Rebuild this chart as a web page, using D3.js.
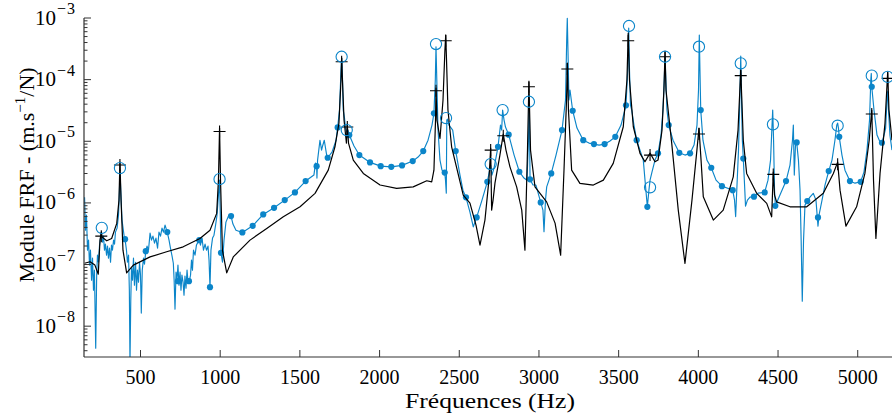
<!DOCTYPE html>
<html><head><meta charset="utf-8">
<script src="https://cdn.jsdelivr.net/npm/d3@7"></script>
<style>
body{margin:0;background:#fff}
svg{display:block}
svg text{font-family:"Liberation Serif","DejaVu Serif","Times New Roman",serif;fill:#000}
</style>
</head><body><svg id="c" width="892" height="419" font-family="Liberation Serif, DejaVu Serif, serif"></svg>
<script>
// ---- data: [frequency (Hz), module FRF (m.s^-1/N)] ----
const modelCurve = [[149,1.05e-7],[183,1.11e-7],[214,9.8e-8],[235,6.98e-8],[246,2.49e-7],[254,3.36e-7],[258,2.79e-7],[288,2.43e-7],[319,2.65e-7],[351,4.65e-7],
[365,1.11e-6],[371,4.59e-6],[378,1.11e-6],[390,1.71e-7],[413,7.33e-8],[455,9.8e-8],[560,1.33e-7],[664,1.61e-7],[768,1.94e-7],[873,2.65e-7],
[936,3.61e-7],[978,6.76e-7],[989,2.34e-6],[996,1.64e-5],[1002,2.34e-6],[1014,1.71e-7],[1041,7.33e-8],[1082,1.33e-7],[1187,2.49e-7],[1292,3.85e-7],
[1396,5.94e-7],[1501,8.65e-7],[1595,1.43e-6],[1678,3.40e-6],[1720,8.14e-6],[1745,1.97e-5],[1758,9.86e-5],[1762,2.24e-4],[1767,9.86e-5],[1777,2.21e-5],
[1792,9.35e-6],[1797,1.90e-5],[1805,9.35e-6],[1835,4.95e-6],[1898,3.01e-6],[2003,1.95e-6],[2107,1.72e-6],[2211,1.82e-6],[2296,2.29e-6],[2327,2.20e-6],
[2341,3.40e-6],[2351,2.21e-5],[2354,7.31e-5],[2360,2.21e-5],[2379,1.11e-5],[2398,4.67e-5],[2410,3.03e-4],[2415,5.30e-4],[2420,2.08e-4],[2429,3.21e-5],
[2452,8.14e-6],[2525,1.34e-6],[2567,9.93e-7],[2605,4.36e-7],[2630,2.07e-7],[2661,5.26e-7],[2686,2.34e-6],[2697,7.76e-6],[2703,7.64e-7],[2712,1.11e-6],
[2724,2.09e-6],[2755,5.97e-6],[2776,1.31e-5],[2793,7.19e-6],[2818,3.85e-6],[2860,1.82e-6],[2892,7.64e-7],[2912,1.71e-7],[2928,7.19e-6],[2937,9.14e-5],
[2947,7.19e-6],[2975,1.82e-6],[3048,1.04e-6],[3101,4.70e-7],[3136,1.42e-7],[3157,3.40e-6],[3173,4.67e-5],[3178,1.86e-4],[3185,3.21e-5],[3205,3.40e-6],
[3257,2.07e-6],[3341,1.95e-6],[3404,2.34e-6],[3466,4.38e-6],[3529,1.72e-5],[3552,9.86e-5],[3560,5.71e-4],[3568,9.86e-5],[3592,1.72e-5],[3634,6.37e-6],
[3665,4.65e-6],[3697,6.43e-6],[3728,4.65e-6],[3747,4.95e-6],[3772,1.52e-5],[3784,6.78e-5],[3791,2.81e-4],[3797,6.78e-5],[3833,9.25e-6],[3874,7.64e-7],
[3916,1.04e-7],[3960,1.11e-6],[3991,7.19e-6],[4004,1.64e-5],[4017,4.95e-6],[4031,1.26e-6],[4094,5.26e-7],[4156,7.64e-7],[4219,2.65e-6],[4249,1.52e-5],
[4266,1.43e-4],[4282,1.04e-5],[4303,3.01e-6],[4366,1.43e-6],[4429,9.82e-7],[4460,5.94e-7],[4470,3.16e-6],[4478,1.34e-6],[4491,1.04e-6],[4575,8.65e-7],
[4680,8.65e-7],[4784,1.43e-6],[4847,3.01e-6],[4874,4.59e-6],[4889,1.61e-6],[4926,4.20e-7],[4993,8.65e-7],[5045,3.01e-6],[5072,1.04e-5],[5088,3.21e-5],
[5099,2.34e-6],[5114,2.65e-7],[5140,3.01e-6],[5171,1.95e-5],[5188,1.33e-4],[5196,3.21e-5],[5215,1.04e-5]];

const measuredCurve = [[149,1.24e-6],[155,3.61e-7],[161,6.34e-7],[167.5,1.71e-7],[174,2.49e-7],[180,9.8e-8],[186,1.71e-7],[193,5.58e-8],[199,1.27e-7],[205,3.84e-8],
[211,8.11e-8],[219,4.4e-9],[225,6.73e-8],[230,1.42e-7],[236.5,1.09e-7],[243,2.07e-7],[249,2.69e-7],[255,3.36e-7],[261.6,2.31e-7],[268,2.89e-7],
[274,1.71e-7],[280,2.14e-7],[287,1.42e-7],[293,1.99e-7],[299,1.27e-7],[305.5,1.85e-7],[312,1.09e-7],[318,2.07e-7],[324,1.71e-7],[331,2.49e-7],
[337,2.14e-7],[343,3.36e-7],[353,3.90e-7],[362,6.34e-7],[368,1.61e-6],[371,3.40e-6],[376,1.61e-6],[384,5.26e-7],[396.5,3.0e-7],[403,2.58e-7],
[412,1.71e-7],[418,1.09e-7],[425,1.42e-7],[430,3.84e-8],[434,2.5e-9],[439,2.64e-8],[443.5,8.75e-8],[450,5.58e-8],[456,1.27e-7],[462,4.63e-8],
[469,1.09e-7],[475,3.84e-8],[481,8.11e-8],[487.5,5.18e-8],[494,1.09e-7],[500,6.73e-8],[505,1.63e-8],[511,8.11e-8],[519,1.27e-7],[525,1.01e-7],
[533,1.65e-7],[541,1.99e-7],[550,1.71e-7],[560,3.24e-7],[569,2.49e-7],[578,2.89e-7],[588,2.22e-7],[597,2.69e-7],[607,1.85e-7],[616,3.36e-7],
[625.5,2.89e-7],[635,3.90e-7],[644,3.36e-7],[654,4.36e-7],[668,3.36e-7],[679,2.49e-7],[688,1.85e-7],[698,1.37e-7],[706,1.05e-7],[711,5.58e-8],
[716.5,1.89e-8],[723,7.53e-8],[729,5.58e-8],[735,9.8e-8],[741.5,4.63e-8],[748,7.53e-8],[754,3.84e-8],[760,6.73e-8],[767,5.18e-8],[773,3.18e-8],
[779,6.49e-8],[785.5,4.14e-8],[792,8.11e-8],[798,5.18e-8],[806,5.38e-8],[814,6.73e-8],[820,1.18e-7],[826,8.11e-8],[832.5,1.71e-7],[842,1.42e-7],
[851,2.07e-7],[861,2.31e-7],[869,2.49e-7],[876,2.07e-7],[886,2.69e-7],[895,1.71e-7],[905,2.14e-7],[914,1.71e-7],[923.5,1.99e-7],[930,1.18e-7],
[936,4.30e-8],[942,1.71e-7],[952,2.69e-7],[961,3.0e-7],[971,4.36e-7],[980,6.34e-7],[989,1.34e-6],[996,2.34e-6],[1000,7.64e-7],[1005,1.55e-7],
[1014.5,1.09e-7],[1024,2.49e-7],[1036,4.88e-7],[1052,6.11e-7],[1068,6.11e-7],[1080,4.53e-7],[1099,3.61e-7],[1139,3.32e-7],[1204,4.25e-7],[1270,6.50e-7],
[1338,8.32e-7],[1405,1.11e-6],[1469,1.48e-6],[1536,2.26e-6],[1588,2.83e-6],[1598,4.43e-6],[1605,3.95e-6],[1607,2.53e-6],[1611,4.95e-6],[1626,1.04e-5],
[1636,7.19e-6],[1641,8.14e-6],[1653,1.04e-5],[1668,5.97e-6],[1674.5,5.40e-6],[1701.5,6.68e-6],[1727,1.04e-5],[1737,1.68e-5],[1748.5,3.21e-5],[1758,1.43e-4],
[1762,2.24e-4],[1766,1.43e-4],[1772,3.21e-5],[1780,2.38e-5],[1786,1.64e-5],[1794,1.41e-5],[1802,1.52e-5],[1810,1.26e-5],[1839.5,8.36e-6],[1873,5.97e-6],
[1940,4.54e-6],[2007,3.95e-6],[2073.5,3.85e-6],[2141,4.06e-6],[2208,4.77e-6],[2241.5,5.54e-6],[2274,6.93e-6],[2304,1.04e-5],[2329,1.83e-5],[2341,2.84e-5],
[2349.6,9.86e-5],[2354,3.42e-4],[2359,9.86e-5],[2366.6,1.52e-5],[2379,4.95e-6],[2391.6,3.40e-6],[2408.6,3.10e-6],[2413.6,2.34e-6],[2418.6,1.44e-6],[2421.7,2.21e-5],
[2426,2.29e-5],[2435.6,1.83e-5],[2458.7,1.52e-5],[2477.6,6.93e-6],[2504.5,2.83e-6],[2523,1.61e-6],[2542,1.23e-6],[2567,7.09e-7],[2588,4.09e-7],[2609,5.82e-7],
[2642.6,1.11e-6],[2676,2.20e-6],[2693,3.67e-6],[2697,4.11e-6],[2705,2.83e-6],[2718,3.67e-6],[2743,8.14e-6],[2758.6,1.83e-5],[2766,1.52e-5],[2772,3.21e-5],
[2781,2.21e-5],[2790,1.70e-5],[2810,1.28e-5],[2844,5.97e-6],[2877,3.20e-6],[2906,2.53e-6],[2925,2.34e-6],[2934,1.04e-5],[2939,5.03e-5],[2944,2.41e-6],
[2962.5,1.95e-6],[2981,1.95e-6],[3011,1.02e-6],[3025,7.64e-7],[3031.6,3.40e-7],[3041,1.11e-6],[3048.5,1.82e-6],[3077,3.01e-6],[3107,5.97e-6],[3144.5,1.52e-5],
[3166.5,4.67e-5],[3174,4.40e-4],[3177.7,9.9e-4],[3182,3.03e-4],[3188,4.67e-5],[3194.7,6.78e-5],[3211.6,3.13e-5],[3238.6,1.64e-5],[3278,1.04e-5],[3314,9.35e-6],
[3345,9.01e-6],[3377,8.68e-6],[3412,9.01e-6],[3445.6,1.01e-5],[3479,1.18e-5],[3515,1.83e-5],[3546,3.83e-5],[3557,1.43e-4],[3563,6.88e-4],[3568,1.43e-4],
[3574,3.86e-5],[3582,3.21e-5],[3596,1.83e-5],[3613,1.04e-5],[3654.6,4.95e-6],[3668,1.95e-6],[3680,8.65e-7],[3690,1.61e-6],[3697,2.34e-6],[3709,3.16e-6],
[3728,4.95e-6],[3747,6.37e-6],[3766,1.26e-5],[3778,3.21e-5],[3786,9.86e-5],[3791,2.33e-4],[3796,9.86e-5],[3803,3.21e-5],[3814,1.83e-5],[3841,1.04e-5],
[3880.5,6.50e-6],[3916,5.97e-6],[3948,6.37e-6],[3973,8.68e-6],[3991.5,1.83e-5],[4001,6.78e-5],[4006,5.30e-4],[4010,1.43e-4],[4015,3.21e-5],[4029,1.04e-5],
[4054,4.95e-6],[4081,3.72e-6],[4111,2.34e-6],[4148,1.87e-6],[4180,1.74e-6],[4215.5,1.61e-6],[4227,1.11e-6],[4234,6.0e-7],[4242.5,1.95e-6],[4252,7.19e-6],
[4260,4.67e-5],[4266,2.42e-4],[4271,4.67e-5],[4276,1.04e-5],[4282,5.24e-6],[4290,1.95e-6],[4296,8.87e-7],[4308,1.11e-6],[4324,1.24e-6],[4349,1.26e-6],
[4374,1.44e-6],[4416,1.48e-6],[4437,2.34e-6],[4453,4.95e-6],[4461,1.52e-5],[4466.5,3.21e-5],[4472,1.04e-5],[4478,1.61e-6],[4483,8.97e-7],[4512,1.34e-6],
[4550,2.26e-6],[4575,4.11e-6],[4590.6,1.04e-5],[4596,1.83e-5],[4602,2.83e-6],[4609.5,8.68e-6],[4617,9.59e-6],[4628,4.95e-6],[4638,1.61e-6],[4645,2.49e-7],
[4652,2.55e-8],[4660,2.49e-7],[4669,9.2e-7],[4683.5,1.07e-6],[4700,1.24e-6],[4721,1.43e-6],[4738,1.11e-6],[4750.6,4.20e-7],[4757,6.34e-7],[4776,1.11e-6],
[4794.5,1.95e-6],[4818,3.28e-6],[4838.5,4.95e-6],[4857,1.04e-5],[4868.6,1.83e-5],[4874,1.97e-5],[4879,1.64e-5],[4884,1.18e-5],[4901,5.97e-6],[4920,3.40e-6],
[4951,2.26e-6],[4983,2.09e-6],[5018.5,2.20e-6],[5039,3.16e-6],[5058,7.19e-6],[5074,2.21e-5],[5082,9.86e-5],[5085,1.26e-4],[5088,7.67e-5],[5102,3.21e-5],
[5121,1.26e-5],[5140,9.70e-6],[5152,9.46e-6],[5165,1.26e-5],[5175,1.62e-5],[5183.5,4.67e-5],[5188,6.5e-5],[5193,3.21e-5],[5202,1.26e-5],[5215,7.19e-6]];

const measuredMarkers = [[403,2.58e-7],[533,1.65e-7],[668,3.36e-7],[735,5.38e-8],[804,5.38e-8],[869,2.49e-7],[936,4.30e-8],[1005,1.55e-7],[1068,6.11e-7],[1139,3.32e-7],
[1204,4.25e-7],[1270,6.50e-7],[1338,8.32e-7],[1405,1.11e-6],[1469,1.48e-6],[1536,2.26e-6],[1605,3.95e-6],[1674.5,5.40e-6],[1737,1.68e-5],[1810,1.26e-5],
[1873,5.97e-6],[1940,4.54e-6],[2007,3.95e-6],[2073.5,3.85e-6],[2141,4.06e-6],[2208,4.77e-6],[2274,6.93e-6],[2341,2.84e-5],[2408.6,3.10e-6],[2477.6,6.93e-6],
[2542,1.23e-6],[2609,5.82e-7],[2676,2.20e-6],[2743,8.14e-6],[2810,1.28e-5],[2877,3.20e-6],[2944,2.41e-6],[3011,1.02e-6],[3077,3.01e-6],[3144.5,1.52e-5],
[3211.6,3.13e-5],[3278,1.04e-5],[3345,9.01e-6],[3412,9.01e-6],[3479,1.18e-5],[3546,3.83e-5],[3613,1.04e-5],[3680,8.65e-7],[3747,6.37e-6],[3814,1.83e-5],
[3880.5,6.50e-6],[3948,6.37e-6],[4015,3.21e-5],[4081,3.72e-6],[4148,1.87e-6],[4215.5,1.61e-6],[4282,5.24e-6],[4349,1.26e-6],[4416,1.48e-6],[4483,8.97e-7],
[4550,2.26e-6],[4617,9.59e-6],[4683.5,1.07e-6],[4750.6,5.82e-7],[4818,3.28e-6],[4884,1.18e-5],[4951,2.26e-6],[5018.5,2.20e-6],[5088,7.67e-5],[5152,9.46e-6]];

const measuredPeaks = [[257,3.94e-7],[371,3.67e-6],[996,2.43e-6],[1762,2.35e-4],[1794,1.52e-5],[2354,3.78e-4],[2417,2.38e-5],[2697,4.27e-6],[2772,3.21e-5],[2937,4.38e-5],
[3565,7.41e-4],[3697,1.79e-6],[3791,2.35e-4],[4004,3.42e-4],[4266,1.84e-4],[4468,1.88e-5],[4874,1.79e-5],[5088,1.16e-4],[5188,1.11e-4]];

const modelPeaks = [[254,2.89e-7],[371,4.11e-6],[996,1.44e-5],[1762,1.95e-4],[1797.5,1.70e-5],[2354,6.61e-5],[2415,4.28e-4],[2697,7.19e-6],[2776,1.23e-5],[2937,7.67e-5],
[3178,1.49e-4],[3560,4.28e-4],[3697,5.97e-6],[3791,2.35e-4],[4004,1.31e-5],[4266,1.16e-4],[4470,2.90e-6],[4874,4.22e-6],[5088,2.77e-5],[5188,1.05e-4]];

const xTickValues = [500,1000,1500,2000,2500,3000,3500,4000,4500,5000];
const yDecadeExponents = [-8,-7,-6,-5,-4,-3];
const xLabel = "Fréquences (Hz)";
const yLabelParts = ["Module FRF - (m.s", "\u22121", "/N)"];

// ---- drawing ----
const FONT = "'Liberation Serif','DejaVu Serif',serif";
const svg = d3.select("#c");
const L = 84, R = 892, T = 18, B = 357;
const x = d3.scaleLinear().domain([145.5, 5215]).range([L, R]);
const y = d3.scaleLog().domain([Math.pow(10, -8.5), 1e-3]).range([B, T]);
const blue = "#0b85c9";

svg.append("defs").append("clipPath").attr("id","clip")
  .append("rect").attr("x",L).attr("y",T-2).attr("width",R-L+2).attr("height",B-T+2);

const plot = svg.append("g").attr("clip-path","url(#clip)");
const line = d3.line().x(d => x(d[0])).y(d => y(Math.max(d[1], 1e-10)));

plot.append("path").datum(measuredCurve).attr("d", line)
  .attr("fill","none").attr("stroke",blue).attr("stroke-width",1.15).attr("stroke-linejoin","round");
plot.selectAll("circle.dot").data(measuredMarkers).join("circle").attr("class","dot")
  .attr("cx",d=>x(d[0])).attr("cy",d=>y(d[1])).attr("r",3.1).attr("fill",blue);
plot.append("path").datum(modelCurve).attr("d", line)
  .attr("fill","none").attr("stroke","#000").attr("stroke-width",1.2).attr("stroke-linejoin","round");
plot.selectAll("path.plus").data(modelPeaks).join("path").attr("class","plus")
  .attr("d",d=>{const cx=x(d[0]),cy=y(d[1]);return `M${cx-6},${cy}H${cx+6}M${cx},${cy-6}V${cy+6}`;})
  .attr("stroke","#000").attr("stroke-width",1.1).attr("fill","none");
plot.selectAll("circle.pk").data(measuredPeaks).join("circle").attr("class","pk")
  .attr("cx",d=>x(d[0])).attr("cy",d=>y(d[1])).attr("r",5.6)
  .attr("fill","none").attr("stroke",blue).attr("stroke-width",1.1);

// axes
const axisColor = "#333";
const ax = svg.append("g").attr("font-family", FONT);
ax.append("line").attr("x1",L).attr("x2",L).attr("y1",T).attr("y2",B).attr("stroke",axisColor).attr("stroke-width",1.2);
ax.append("line").attr("x1",L).attr("x2",R).attr("y1",B).attr("y2",B).attr("stroke",axisColor).attr("stroke-width",1.2);

// y ticks (decades + minor 2..9)
for (let e = -9; e <= -4; e++) {
  for (let k = 1; k <= 9; k++) {
    const val = k === 1 ? Math.pow(10, e + 1) : k * Math.pow(10, e);
    if (val < y.domain()[0] || val > y.domain()[1] * 1.0001) continue;
    const yy = y(val);
    const len = k === 1 ? 7 : 3.5;
    ax.append("line").attr("x1",L).attr("x2",L+len).attr("y1",yy).attr("y2",yy).attr("stroke",axisColor).attr("stroke-width",1);
  }
}
yDecadeExponents.forEach(e => {
  const yy = y(Math.pow(10, e));
  const t = ax.append("text").attr("x",76).attr("y",yy+6.5).attr("text-anchor","end")
    .attr("font-size",21).attr("font-family",FONT);
  t.append("tspan").text("10");
  t.append("tspan").attr("dx",1).attr("dy",-10.5).attr("font-size",16).attr("letter-spacing",1).text("\u2212" + Math.abs(e));
});

// x ticks
xTickValues.forEach(v => {
  const xx = x(v);
  ax.append("line").attr("x1",xx).attr("x2",xx).attr("y1",B).attr("y2",B-7).attr("stroke",axisColor).attr("stroke-width",1);
  ax.append("text").attr("x",xx).attr("y",384).attr("text-anchor","middle")
    .attr("font-size",20).attr("font-family",FONT).text(v);
});

svg.append("text").attr("x",490).attr("y",408).attr("text-anchor","middle")
  .attr("font-size",21).attr("font-family",FONT)
  .attr("textLength",170).attr("lengthAdjust","spacingAndGlyphs").text(xLabel);

const yl = svg.append("text").attr("transform","translate(34,175) rotate(-90)").attr("text-anchor","middle")
  .attr("font-size",22).attr("font-family",FONT);
yl.append("tspan").text(yLabelParts[0]);
yl.append("tspan").attr("dy",-9).attr("font-size",15).text(yLabelParts[1]);
yl.append("tspan").attr("dy",9).text(yLabelParts[2]);
</script>
</body></html>
